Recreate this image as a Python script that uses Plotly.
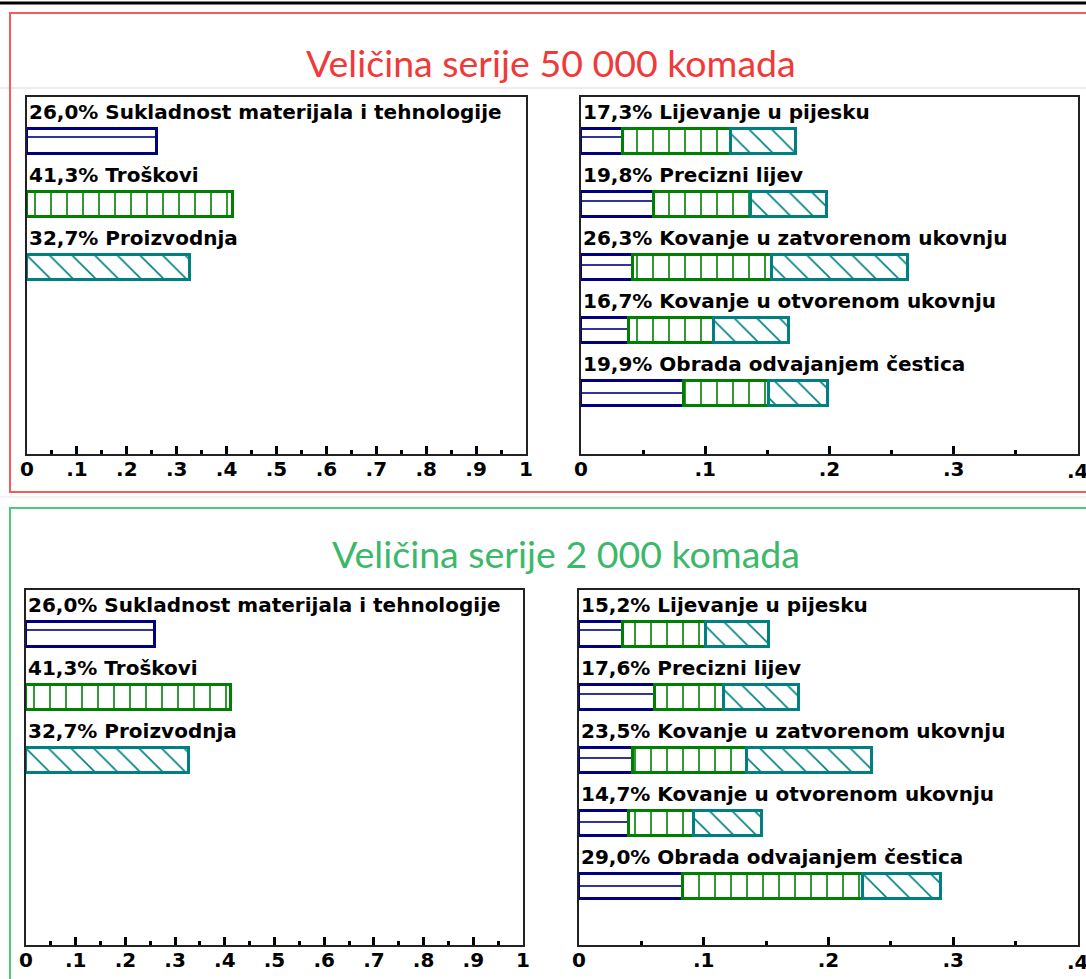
import plotly.graph_objects as go

W, H = 1086, 979

# ---------------- data ----------------
criteria = ["Sukladnost materijala i tehnologije", "Troškovi", "Proizvodnja"]
criteria_w = [0.260, 0.413, 0.327]

alternatives = ["Lijevanje u pijesku", "Precizni lijev", "Kovanje u zatvorenom ukovnju",
                "Kovanje u otvorenom ukovnju", "Obrada odvajanjem čestica"]

# series 50 000 pieces: contributions per criterion
s50_sukladnost = [0.034, 0.059, 0.042, 0.039, 0.083]
s50_troskovi = [0.087, 0.078, 0.112, 0.068, 0.068]
s50_proizvodnja = [0.052, 0.061, 0.109, 0.060, 0.048]
s50_total_labels = ["17,3%", "19,8%", "26,3%", "16,7%", "19,9%"]

# series 2 000 pieces
s2_sukladnost = [0.035, 0.061, 0.043, 0.040, 0.083]
s2_troskovi = [0.067, 0.055, 0.092, 0.052, 0.145]
s2_proizvodnja = [0.050, 0.060, 0.100, 0.055, 0.062]
s2_total_labels = ["15,2%", "17,6%", "23,5%", "14,7%", "29,0%"]

criteria_labels = ["26,0%", "41,3%", "32,7%"]

left_ticks = [0, 0.1, 0.2, 0.3, 0.4, 0.5, 0.6, 0.7, 0.8, 0.9, 1.0]
left_ticktext = ["0", ".1", ".2", ".3", ".4", ".5", ".6", ".7", ".8", ".9", "1"]
right_ticks = [0, 0.1, 0.2, 0.3, 0.4]
right_ticktext = ["0", ".1", ".2", ".3", ".4"]

titles = ["Veličina serije 50 000 komada", "Veličina serije 2 000 komada"]

# ---------------- styles ----------------
BLUE, GREEN, TEAL = "#000080", "#008000", "#008080"
COLORS = [BLUE, GREEN, TEAL]
SHAPES = ["-", "|", "\\"]
TXT_FONT = dict(family="DejaVu Sans", size=20, color="black", weight="bold")
TICK_FONT = dict(family="DejaVu Sans", size=20, color="black", weight="bold")


def px_x(x):
    return x / W


def px_y(y):
    return 1 - y / H


PITCH = 63.0
# panel pixel boxes: (left, right, top, bottom, first row center)
panels = {
    "tl": (27, 526, 97, 454, 141),
    "tr": (581, 1078, 97, 454, 141),
    "bl": (26, 523, 590, 945, 634),
    "br": (579, 1078, 590, 945, 634),
}

fig = go.Figure()
axis_ids = {"tl": ("x", "y"), "tr": ("x2", "y2"), "bl": ("x3", "y3"), "br": ("x4", "y4")}
layout_axes = {}

BAR_W = 25 / PITCH
TXT_OFF = -29 / PITCH


def pattern(i):
    return dict(shape=SHAPES[i], fgcolor=COLORS[i], bgcolor="white", size=16,
                solidity=0.1, fillmode="replace")


annotations = []

for key in ["tl", "bl"]:
    xa, ya = axis_ids[key]
    for i, (name, val) in enumerate(zip(criteria, criteria_w)):
        fig.add_trace(go.Bar(
            x=[val], y=[i], base=[0], orientation="h", width=BAR_W,
            marker=dict(color="white", pattern=pattern(i),
                        line=dict(color=COLORS[i], width=3)),
            xaxis=xa, yaxis=ya, showlegend=False, hoverinfo="skip"))
        annotations.append(dict(x=0, y=i + TXT_OFF, xref=xa, yref=ya,
                                text=f"{criteria_labels[i]} {name}", showarrow=False,
                                xanchor="left", yanchor="middle", xshift=0, font=TXT_FONT))

for key, series, labels in [("tr", (s50_sukladnost, s50_troskovi, s50_proizvodnja), s50_total_labels),
                            ("br", (s2_sukladnost, s2_troskovi, s2_proizvodnja), s2_total_labels)]:
    xa, ya = axis_ids[key]
    base = [0.0] * len(alternatives)
    for c, vals in enumerate(series):
        fig.add_trace(go.Bar(
            x=vals, y=list(range(len(alternatives))), base=list(base), orientation="h",
            width=BAR_W,
            marker=dict(color="white", pattern=pattern(c),
                        line=dict(color=COLORS[c], width=3)),
            xaxis=xa, yaxis=ya, showlegend=False, hoverinfo="skip"))
        base = [b + v for b, v in zip(base, vals)]
    for i, name in enumerate(alternatives):
        annotations.append(dict(x=0, y=i + TXT_OFF, xref=xa, yref=ya,
                                text=f"{labels[i]} {name}", showarrow=False,
                                xanchor="left", yanchor="middle", xshift=0, font=TXT_FONT))

for key, (l, r, t, b, c0) in panels.items():
    xa, ya = axis_ids[key]
    xname = "xaxis" + xa[1:]
    yname = "yaxis" + ya[1:]
    is_left = key in ("tl", "bl")
    layout_axes[xname] = dict(
        domain=[px_x(l), px_x(r)], anchor=ya, automargin=False,
        range=[0, 1.0] if is_left else [0, 0.4],
        tickvals=left_ticks if is_left else right_ticks,
        ticktext=left_ticktext if is_left else right_ticktext,
        ticks="inside", ticklen=8, tickwidth=3, tickcolor="black",
        ticklabelstandoff=-4,
        minor=dict(dtick=0.05, ticks="inside", ticklen=4, tickwidth=3, tickcolor="black",
                   showgrid=False),
        showline=True, mirror=True, linecolor="#222222", linewidth=2,
        showgrid=False, zeroline=False, tickfont=TICK_FONT, fixedrange=True,
    )
    layout_axes[yname] = dict(
        domain=[px_y(b), px_y(t)], anchor=xa, automargin=False,
        range=[(b - c0) / PITCH, (t - c0) / PITCH],
        showline=True, mirror=True, linecolor="#222222", linewidth=2,
        showgrid=False, zeroline=False, showticklabels=False, ticks="",
        fixedrange=True,
    )
    if not is_left:
        # last tick label sits on the window edge (partly cut, as in the original)
        annotations.append(dict(x=right_ticks[-1], y=px_y(b + 3), xref=xa, yref="paper",
                                text=right_ticktext[-1], showarrow=False,
                                xanchor="center", yanchor="top", font=TICK_FONT))

# titles
annotations.append(dict(x=px_x(551), y=px_y(62), xref="paper", yref="paper", text=titles[0],
                        showarrow=False, xanchor="center", yanchor="middle",
                        font=dict(family="Lato", size=37.5, color="#f03a3a")))
annotations.append(dict(x=px_x(566), y=px_y(553), xref="paper", yref="paper", text=titles[1],
                        showarrow=False, xanchor="center", yanchor="middle",
                        font=dict(family="Lato", size=37.5, color="#3cb86a")))

shapes = [
    dict(type="line", xref="paper", yref="paper", x0=0, x1=1, y0=px_y(3), y1=px_y(3),
         line=dict(color="black", width=3)),
    dict(type="line", xref="paper", yref="paper", x0=0, x1=1, y0=px_y(88), y1=px_y(88),
         line=dict(color="#ececec", width=2), layer="below"),
    dict(type="line", xref="paper", yref="paper", x0=0, x1=1, y0=px_y(497), y1=px_y(497),
         line=dict(color="#f3f3f3", width=2), layer="below"),
    dict(type="rect", xref="paper", yref="paper", x0=px_x(10), x1=1.02, y0=px_y(492), y1=px_y(13),
         line=dict(color="#f25c5c", width=2)),
    dict(type="rect", xref="paper", yref="paper", x0=px_x(10), x1=1.02, y0=-0.02, y1=px_y(508),
         line=dict(color="#4fc878", width=2)),
]

fig.update_layout(
    width=W, height=H, margin=dict(l=0, r=0, t=0, b=0, autoexpand=False),
    paper_bgcolor="white", plot_bgcolor="white",
    barmode="overlay", bargap=0,
    annotations=annotations, shapes=shapes, showlegend=False,
    **layout_axes,
)

fig.write_html("out.html", config={"displayModeBar": False},
               post_script="document.body.style.margin='0';document.body.style.padding='0';"
                           "document.body.style.overflow='hidden';")
